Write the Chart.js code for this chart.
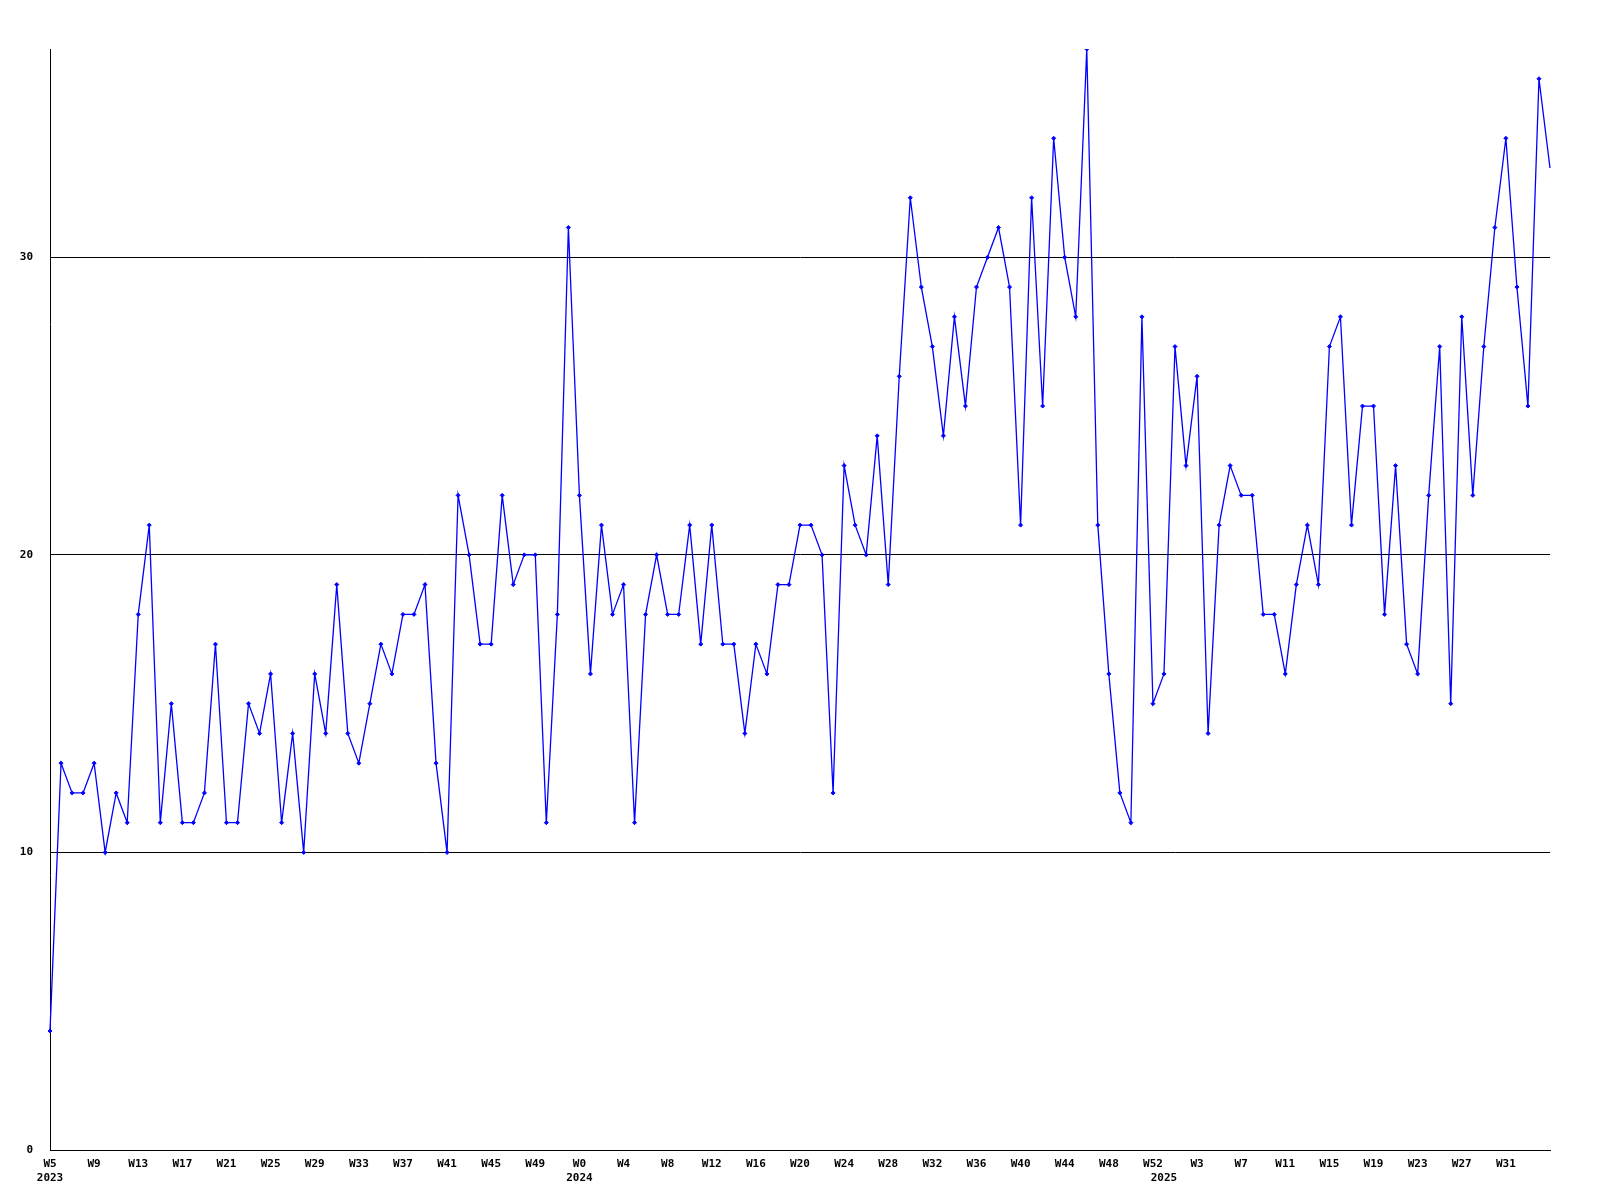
<!DOCTYPE html>
<html lang="en">
<head>
<meta charset="UTF-8">
<title>Weekly count</title>
<script src="https://cdn.jsdelivr.net/npm/chart.js"></script>
<style>
  body { margin: 0; background: #ffffff; }
  #weekChart { display: block; }
</style>
</head>
<body>
<canvas id="weekChart" width="1600" height="1200"></canvas>
<script>
// week labels per year
const weeks2023 = ['W5','W6','W7','W8','W9','W10','W11','W12','W13','W14','W15','W16','W17','W18','W19','W20',
  'W21','W22','W23','W24','W25','W26','W27','W28','W29','W30','W31','W32','W33','W34','W35','W36','W37','W38',
  'W39','W40','W41','W42','W43','W44','W45','W46','W47','W48','W49','W50','W51','W52'];
const weeks2024 = ['W0','W1','W2','W3','W4','W5','W6','W7','W8','W9','W10','W11','W12','W13','W14','W15','W16',
  'W17','W18','W19','W20','W21','W22','W23','W24','W25','W26','W27','W28','W29','W30','W31','W32','W33','W34',
  'W35','W36','W37','W38','W39','W40','W41','W42','W43','W44','W45','W46','W47','W48','W49','W50','W51','W52'];
const weeks2025 = ['W0','W1','W2','W3','W4','W5','W6','W7','W8','W9','W10','W11','W12','W13','W14','W15','W16',
  'W17','W18','W19','W20','W21','W22','W23','W24','W25','W26','W27','W28','W29','W30','W31','W32','W33','W34','W35'];

// weekly counts
const counts2023 = [4,13,12,12,13,10,12,11,18,21,11,15,11,11,12,17,11,11,15,14,16,11,14,
  10,16,14,19,14,13,15,17,16,18,18,19,13,10,22,20,17,17,22,19,20,20,11,18,31];
const counts2024 = [22,16,21,18,19,11,18,20,18,18,21,17,21,17,17,14,17,16,19,19,21,21,20,12,23,21,
  20,24,19,26,32,29,27,24,28,25,29,30,31,29,21,32,25,34,30,28,37,21,16,12,11,28,15];
const counts2025 = [16,27,23,26,14,21,23,22,22,18,18,16,19,21,19,27,28,21,25,25,18,23,17,16,
  22,27,15,28,22,27,31,34,29,25,36,33];

const years = ['2023', '2024', '2025'];
const yTicks = [0, 10, 20, 30];

const labels = weeks2023.concat(weeks2024, weeks2025);
const counts = counts2023.concat(counts2024, counts2025);

// index where each year starts
const yearStart = {};
yearStart[0] = years[0];
yearStart[weeks2023.length] = years[1];
yearStart[weeks2023.length + weeks2024.length] = years[2];

const monoFont = { family: 'DejaVu Sans Mono', size: 11, weight: 'bold' };

// the last point sits on the right edge, its marker is cut off there
const radii = counts.map((v, i) => (i === counts.length - 1 ? 0 : 2));

const ctx = document.getElementById('weekChart').getContext('2d');
new Chart(ctx, {
  type: 'line',
  data: {
    labels: labels,
    datasets: [{
      data: counts,
      borderColor: '#0000ff',
      backgroundColor: '#0000ff',
      borderWidth: 1.3,
      pointStyle: 'rectRot',
      pointRadius: radii,
      pointBorderWidth: 1,
      tension: 0
    }]
  },
  options: {
    responsive: false,
    animation: false,
    layout: { padding: { top: 49, right: 50, left: 0, bottom: 0 } },
    plugins: { legend: { display: false }, tooltip: { enabled: false } },
    scales: {
      x: {
        offset: false,
        grid: { display: false },
        border: { display: true, color: '#000000', width: 1 },
        afterFit: function (scale) { scale.height = 50; },
        ticks: {
          autoSkip: false,
          maxRotation: 0,
          minRotation: 0,
          padding: 0,
          color: '#000000',
          font: monoFont,
          callback: function (value, index) {
            let week = (index % 4 === 0 && index < labels.length - 1) ? labels[index] : '';
            if (yearStart[index]) return [week, yearStart[index]];
            return week;
          }
        }
      },
      y: {
        min: 0,
        max: 37,
        afterFit: function (scale) { scale.width = 50; },
        afterBuildTicks: function (scale) {
          scale.ticks = yTicks.map(v => ({ value: v }));
        },
        grid: { color: '#000000', lineWidth: 1, drawTicks: false },
        border: { display: true, color: '#000000', width: 1 },
        ticks: {
          padding: 17,
          color: '#000000',
          font: monoFont
        }
      }
    }
  }
});
</script>
</body>
</html>
